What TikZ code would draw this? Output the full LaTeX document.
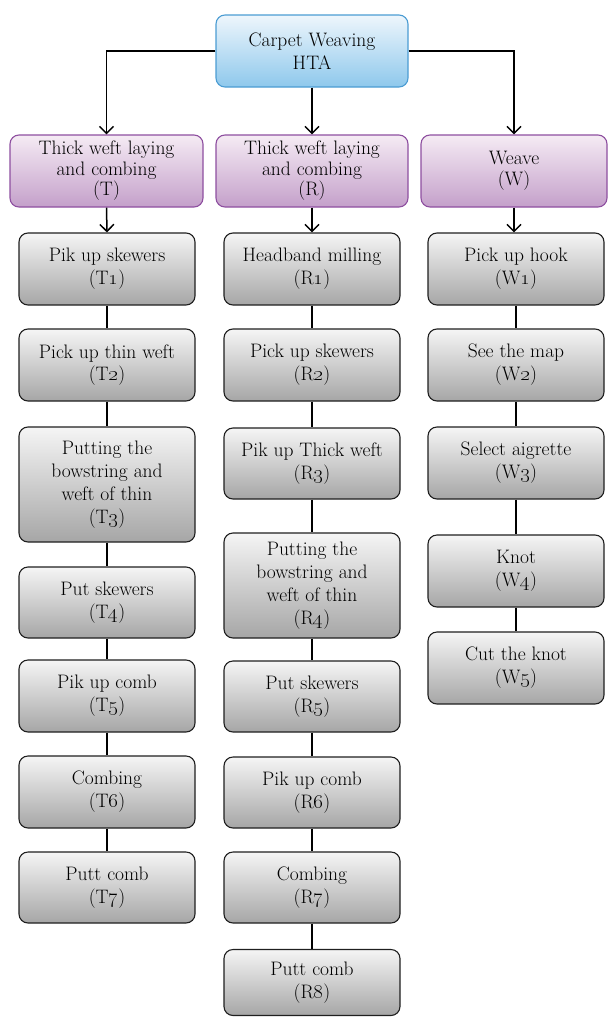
\documentclass[tikz,border=0pt]{standalone}
\usetikzlibrary{arrows.meta}
\definecolor{bluetop}{HTML}{EEF6FC}
\definecolor{bluebot}{HTML}{8EC8EC}
\definecolor{blueline}{HTML}{4B9CD3}
\definecolor{purptop}{HTML}{F5EBF4}
\definecolor{purpbot}{HTML}{C4A0CA}
\definecolor{purpline}{HTML}{8E4FA0}
\definecolor{graytop}{HTML}{F5F5F5}
\definecolor{graybot}{HTML}{A6A6A6}
\definecolor{txt}{HTML}{000000}
\newcommand{\os}[1]{\oldstylenums{#1}}
\begin{document}
\begin{tikzpicture}[x=1pt,y=-1pt,
  base/.style={draw, rounded corners=9pt, line width=1.1pt, align=center, inner sep=0pt,
    text=txt, font=\fontsize{19.5}{22.8}\selectfont},
  topbox/.style={base, draw=blueline, top color=bluetop, bottom color=bluebot,
    minimum width=192pt, minimum height=72pt},
  head/.style={base, draw=purpline, top color=purptop, bottom color=purpbot,
    minimum height=72pt, font=\fontsize{19.5}{20.5}\selectfont},
  task/.style={base, draw=black!88, top color=graytop, bottom color=graybot,
    minimum width=176pt},
  arr/.style={-{Straight Barb[length=7pt,width=14pt]}, line width=1.5pt},
  link/.style={line width=1.5pt}]
\useasboundingbox (0,0) rectangle (608,1017);

% top
\node[topbox] (top) at (312,51) {Carpet Weaving\\HTA};

% headers
\node[head, minimum width=193pt] (T) at (106.5,171) {Thick weft laying\\and combing\\(T)};
\node[head, minimum width=192pt] (R) at (312,171) {Thick weft laying\\and combing\\(R)};
\node[head, minimum width=186pt] (W) at (514,171) {Weave\\(W)};

% T column
\node[task, minimum height=72pt]  (T1) at (107,269)   {Pik up skewers\\(T\os{1})};
\node[task, minimum height=72pt]  (T2) at (107,365)   {Pick up thin weft\\(T\os{2})};
\node[task, minimum height=115pt] (T3) at (107,484.5) {Putting the\\bowstring and\\weft of thin\\(T\os{3})};
\node[task, minimum height=71pt]  (T4) at (107,602.5) {Put skewers\\(T\os{4})};
\node[task, minimum height=72pt]  (T5) at (107,696)   {Pik up comb\\(T\os{5})};
\node[task, minimum height=72pt]  (T6) at (107,792)   {Combing\\(T\os{6})};
\node[task, minimum height=71pt]  (T7) at (107,887.5) {Putt comb\\(T\os{7})};

% R column
\node[task, minimum height=72pt]  (R1) at (312,269)   {Headband milling\\(R\os{1})};
\node[task, minimum height=72pt]  (R2) at (312,365)   {Pick up skewers\\(R\os{2})};
\node[task, minimum height=71pt]  (R3) at (312,463.5) {Pik up Thick weft\\(R\os{3})};
\node[task, minimum height=105pt] (R4) at (312,585.5) {Putting the\\bowstring and\\weft of thin\\(R\os{4})};
\node[task, minimum height=71pt]  (R5) at (312,696.5) {Put skewers\\(R\os{5})};
\node[task, minimum height=71pt]  (R6) at (312,792.5) {Pik up comb\\(R\os{6})};
\node[task, minimum height=71pt]  (R7) at (312,887.5) {Combing\\(R\os{7})};
\node[task, minimum height=66pt]  (R8) at (312,982.5) {Putt comb\\(R\os{8})};

% W column
\node[task, minimum height=72pt] (W1) at (516,269) {Pick up hook\\(W\os{1})};
\node[task, minimum height=72pt] (W2) at (516,365) {See the map\\(W\os{2})};
\node[task, minimum height=72pt] (W3) at (516,463) {Select aigrette\\(W\os{3})};
\node[task, minimum height=72pt] (W4) at (516,571) {Knot\\(W\os{4})};
\node[task, minimum height=72pt] (W5) at (516,668) {Cut the knot\\(W\os{5})};

% connectors from top
\draw[arr] (top.west) -| (T.north);
\draw[arr] (top.east) -| (W.north);
\draw[arr] (top.south) -- (R.north);

% header to first task
\draw[arr] (T.south) -- (T1.north);
\draw[arr] (R.south) -- (R1.north);
\draw[arr] (W.south) -- (W1.north -| W.south);

% chains
\draw[link] (T1) -- (T2) (T2) -- (T3) (T3) -- (T4) (T4) -- (T5) (T5) -- (T6) (T6) -- (T7);
\draw[link] (R1) -- (R2) (R2) -- (R3) (R3) -- (R4) (R4) -- (R5) (R5) -- (R6) (R6) -- (R7) (R7) -- (R8);
\draw[link] (W1) -- (W2) (W2) -- (W3) (W3) -- (W4) (W4) -- (W5);
\end{tikzpicture}
\end{document}
